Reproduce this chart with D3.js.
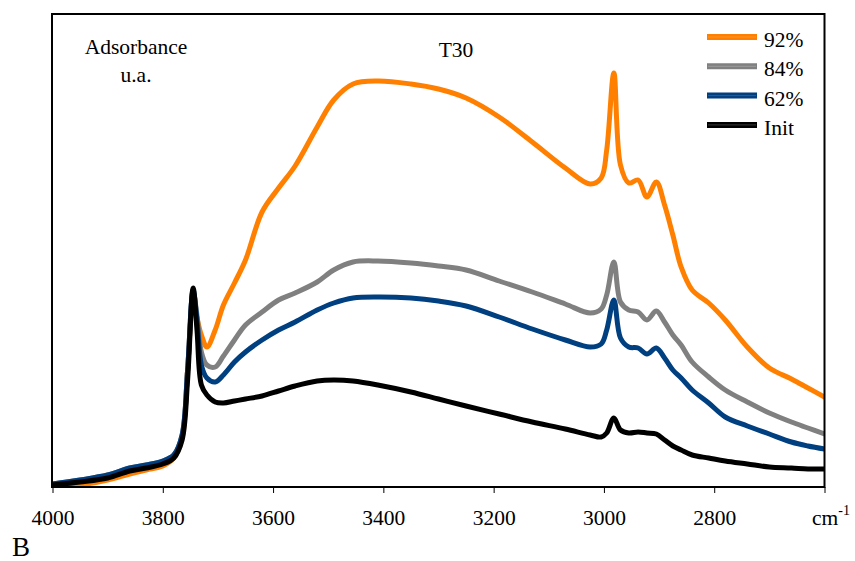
<!DOCTYPE html>
<html>
<head>
<meta charset="utf-8">
<script src="https://cdn.jsdelivr.net/npm/d3@7"></script>
<style>
  html, body { margin: 0; padding: 0; background: #fff; }
  svg { display: block; }
  svg text { font-family: "Liberation Serif", "Times New Roman", Times, "DejaVu Serif", serif !important; fill: #000; }
</style>
</head>
<body>
<svg id="chart" width="855" height="561"></svg>
<script>
// Wavenumbers (cm-1) shared by all series
const wavenumbers = [4000, 3950, 3900, 3860, 3830, 3800, 3780, 3765, 3755, 3745, 3738, 3730, 3720, 3705, 3690, 3670, 3650, 3620, 3590, 3560, 3520, 3490, 3455, 3410, 3350, 3300, 3250, 3190, 3130, 3070, 3025, 3005, 2995, 2982, 2970, 2955, 2938, 2922, 2905, 2890, 2875, 2860, 2840, 2810, 2780, 2740, 2700, 2660, 2630, 2600];

// Absorbance (arbitrary units)
const series92 = [0.0, 0.2, 0.7, 1.3, 1.7, 2.1, 2.9, 4.9, 11.7, 18.7, 16.9, 15.2, 14.0, 15.7, 18.2, 20.4, 22.7, 27.5, 29.9, 32.1, 36.0, 38.7, 40.3, 40.6, 40.3, 39.8, 38.9, 37.0, 34.5, 31.9, 30.3, 30.9, 33.7, 41.4, 32.2, 30.4, 30.7, 29.0, 30.5, 28.2, 25.2, 22.0, 19.7, 18.4, 16.7, 14.0, 11.9, 10.8, 9.9, 9.0];
const series84 = [0.3, 0.7, 1.2, 1.9, 2.2, 2.6, 3.2, 5.2, 11.7, 19.5, 17.2, 13.5, 12.2, 12.0, 13.1, 14.7, 16.2, 17.5, 18.7, 19.4, 20.5, 21.7, 22.5, 22.6, 22.4, 22.1, 21.7, 20.6, 19.5, 18.3, 17.4, 17.8, 19.2, 22.5, 18.5, 17.7, 17.5, 16.7, 17.6, 16.5, 15.2, 14.2, 12.5, 11.0, 9.7, 8.5, 7.4, 6.5, 5.9, 5.3];
const series62 = [0.3, 0.7, 1.2, 1.9, 2.2, 2.6, 3.2, 5.2, 11.7, 19.7, 16.7, 12.2, 10.9, 10.5, 11.2, 12.5, 13.5, 14.7, 15.7, 16.5, 17.7, 18.4, 18.9, 19.0, 18.9, 18.6, 18.1, 17.0, 15.8, 14.7, 14.0, 14.3, 15.7, 18.7, 14.9, 14.0, 13.9, 13.3, 13.9, 12.9, 11.7, 10.9, 9.7, 8.4, 7.0, 6.1, 5.3, 4.5, 4.1, 3.8];
const seriesInit = [0.2, 0.5, 0.9, 1.6, 1.9, 2.3, 2.9, 4.7, 10.7, 19.9, 15.7, 10.2, 9.2, 8.5, 8.4, 8.6, 8.8, 9.1, 9.6, 10.1, 10.6, 10.7, 10.6, 10.2, 9.5, 8.8, 8.1, 7.3, 6.5, 5.8, 5.2, 5.0, 5.4, 6.9, 5.7, 5.4, 5.5, 5.4, 5.3, 4.7, 4.1, 3.7, 3.2, 2.9, 2.6, 2.3, 2.0, 1.9, 1.8, 1.8];

const seriesNames = ["92%", "84%", "62%", "Init"];
const seriesColors = ["#ff8000", "#808080", "#003f80", "#000000"];
const seriesInner = ["#ffa040", "#b0b0b0", "#3a70b0", "#606060"];
const xTicks = [4000, 3800, 3600, 3400, 3200, 3000, 2800, 2600];
const xTickLabels = ["4000", "3800", "3600", "3400", "3200", "3000", "2800", ""];

const allSeries = [series92, series84, series62, seriesInit];

(function () {
const svg = d3.select("#chart");
const pLeft = 52.5, pRight = 824.5, pTop = 14, pBottom = 487;
const FONT = "'Liberation Serif', 'Times New Roman', Times, 'DejaVu Serif', serif";

const x = d3.scaleLinear().domain([4000, 2600]).range([pLeft, pRight]);
const y = d3.scaleLinear().domain([0, 47.3]).range([pBottom, pTop]);

svg.append("clipPath").attr("id", "clip")
  .append("rect").attr("x", pLeft).attr("y", pTop).attr("width", pRight - pLeft).attr("height", pBottom - pTop);

const line = d3.line()
  .x((d, i) => x(wavenumbers[i]))
  .y(d => y(d))
  .curve(d3.curveCatmullRom.alpha(0.5));

const g = svg.append("g").attr("clip-path", "url(#clip)");
allSeries.forEach((s, k) => {
  g.append("path")
    .datum(s)
    .attr("d", line)
    .attr("fill", "none")
    .attr("stroke", seriesColors[k])
    .attr("stroke-width", 5)
    .attr("stroke-linejoin", "round")
    .attr("stroke-linecap", "round");
});

svg.append("rect")
  .attr("x", pLeft - 0.5).attr("y", pTop)
  .attr("width", pRight - pLeft + 0.5).attr("height", pBottom - pTop)
  .attr("fill", "none").attr("stroke", "#000").attr("stroke-width", 2);

const xAxis = d3.axisBottom(x)
  .tickValues(xTicks)
  .tickSize(6)
  .tickFormat((d, i) => xTickLabels[i]);
const ax = svg.append("g").attr("transform", `translate(0,${pBottom})`).call(xAxis)
  .attr("font-family", null);
ax.select(".domain").remove();
ax.selectAll(".tick line").attr("stroke", "#000").attr("stroke-width", 1);
ax.selectAll(".tick text")
  .style("font-family", FONT)
  .style("font-size", "21.5px")
  .attr("fill", "#000")
  .attr("dy", null)
  .attr("y", 38);

function txt(xp, yp, size, s, anchor) {
  return svg.append("text").attr("x", xp).attr("y", yp)
    .attr("text-anchor", anchor || "start")
    .style("font-family", FONT).style("font-size", size + "px")
    .text(s);
}

const unit = svg.append("text").attr("x", 812).attr("y", 525)
  .style("font-family", FONT).style("font-size", "21.5px");
unit.append("tspan").text("cm");
unit.append("tspan").style("font-size", "14px").attr("dy", -10).text("-1");

txt(12, 556, 27, "B");
txt(136, 54, 21.5, "Adsorbance", "middle");
txt(136, 82, 21.5, "u.a.", "middle");
txt(456, 57, 21.5, "T30", "middle");

const legendY0 = 37, legendStep = 29.3;
seriesNames.forEach((name, k) => {
  const ly = legendY0 + k * legendStep;
  svg.append("line").attr("x1", 707).attr("x2", 757).attr("y1", ly).attr("y2", ly)
    .attr("stroke", seriesColors[k]).attr("stroke-width", 6);
  svg.append("line").attr("x1", 708).attr("x2", 756).attr("y1", ly).attr("y2", ly)
    .attr("stroke", seriesInner[k]).attr("stroke-width", 1).attr("opacity", 0.6);
  txt(764, ly + 10, 21.5, name);
});
})();
</script>
</body>
</html>
